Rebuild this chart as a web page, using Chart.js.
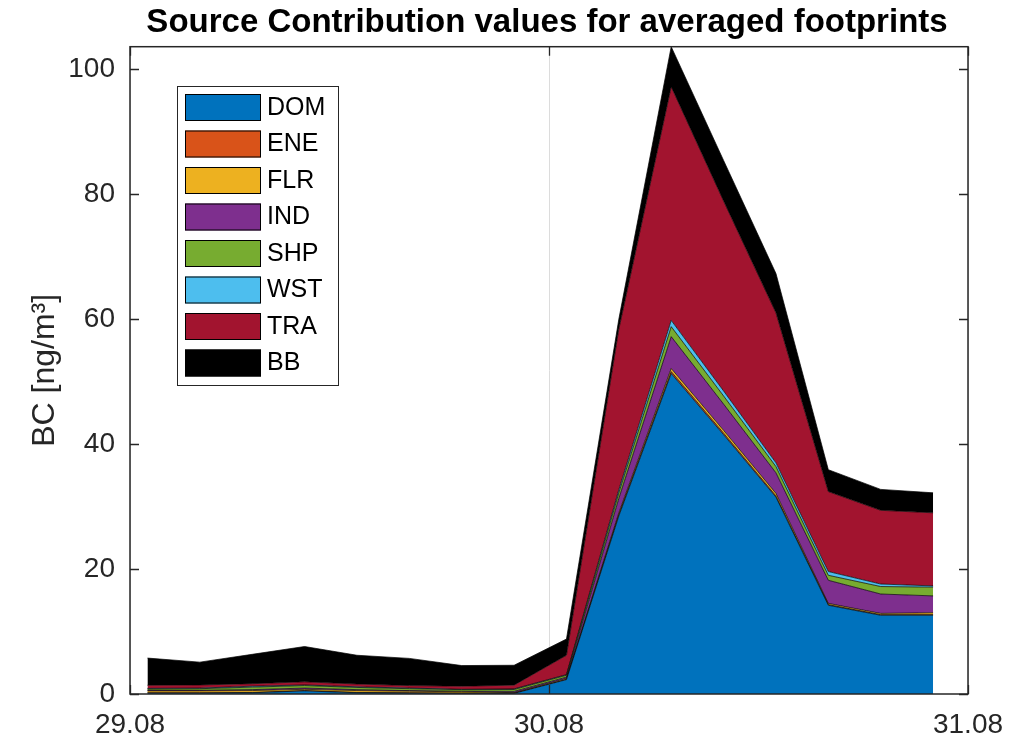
<!DOCTYPE html>
<html>
<head>
<meta charset="utf-8">
<script src="https://cdn.jsdelivr.net/npm/chart.js@4/dist/chart.umd.min.js"></script>
<style>
  html, body { margin: 0; padding: 0; background: #ffffff; }
  canvas { display: block; }
</style>
</head>
<body>
<canvas id="bcChart" width="1020" height="743"></canvas>
<script>
// Time of each footprint average, in hours after 29.08 00:00
const hours = [1, 4, 7, 10, 13, 16, 19, 22, 25, 28, 31, 34, 37, 40, 43, 46];

// Date ticks on the time axis (hours after 29.08 00:00)
const xTickHours = [0, 24, 48];
const xTickLabels = ['29.08', '30.08', '31.08'];
const yTicks = [0, 20, 40, 60, 80, 100];

// Source contributions to BC, ng/m3
const sourceNames = ['DOM', 'ENE', 'FLR', 'IND', 'SHP', 'WST', 'TRA', 'BB'];
const DOM = [0.15, 0.15, 0.2, 0.5, 0.2, 0.15, 0.1, 0.1, 2.3, 28.5, 51.3, 41.5, 31.5, 14.2, 12.6, 12.6];
const ENE = [0.05, 0.05, 0.05, 0.05, 0.05, 0.05, 0.05, 0.02, 0.05, 0.2, 0.3, 0.25, 0.2, 0.1, 0.1, 0.1];
const FLR = [0.3, 0.3, 0.3, 0.2, 0.3, 0.25, 0.2, 0.1, 0.15, 0.3, 0.5, 0.45, 0.4, 0.2, 0.2, 0.3];
const IND = [0.1, 0.1, 0.15, 0.2, 0.15, 0.1, 0.1, 0.2, 0.2, 2.3, 5.1, 4.2, 3.3, 3.7, 3.1, 2.7];
const SHP = [0.2, 0.25, 0.4, 0.4, 0.35, 0.3, 0.25, 0.3, 0.3, 0.9, 1.6, 1.3, 1.0, 0.8, 1.2, 1.4];
const WST = [0.1, 0.1, 0.15, 0.1, 0.1, 0.1, 0.05, 0.1, 0.1, 0.5, 1.0, 0.8, 0.6, 0.6, 0.4, 0.2];
const TRA = [0.5, 0.5, 0.4, 0.5, 0.45, 0.4, 0.5, 0.6, 3.1, 25.7, 37.4, 30.4, 24.0, 12.8, 11.8, 11.7];
const BB  = [4.35, 3.65, 4.7, 5.65, 4.6, 4.35, 3.3, 3.18, 2.6, 1.6, 6.4, 6.5, 6.3, 3.5, 3.35, 3.2];

const seriesValues = [DOM, ENE, FLR, IND, SHP, WST, TRA, BB];
const sourceColors = ['#0072BD', '#D95319', '#EDB120', '#7E2F8E', '#77AC30', '#4DBEEE', '#A2142F', '#000000'];

const FONT = '"Liberation Sans", Arial, Helvetica, sans-serif';
const AXIS_COLOR = '#262626';

// y limit follows the tallest stacked total
const totals = hours.map((_, i) => seriesValues.reduce((s, arr) => s + arr[i], 0));
const yMax = Math.max(...totals);

const datasets = sourceNames.map((name, k) => ({
  label: name,
  data: hours.map((h, i) => ({ x: h, y: seriesValues[k][i] })),
  backgroundColor: sourceColors[k],
  borderColor: '#000000',
  borderWidth: 0.7,
  fill: k === 0 ? 'origin' : '-1',
  tension: 0,
  pointRadius: 0,
  pointHoverRadius: 0
}));

// Box outline, inward ticks, title, y label and legend in the axes' own style
const decorations = {
  id: 'decorations',
  afterDatasetsDraw(chart) {
    const { ctx, chartArea: a, scales } = chart;
    const tl = 9;
    ctx.save();
    ctx.strokeStyle = AXIS_COLOR;
    ctx.lineWidth = 1.3;
    ctx.beginPath();
    yTicks.forEach(v => {
      const y = Math.round(scales.y.getPixelForValue(v)) + 0.5;
      ctx.moveTo(a.left, y); ctx.lineTo(a.left + tl, y);
      ctx.moveTo(a.right, y); ctx.lineTo(a.right - tl, y);
    });
    xTickHours.forEach(v => {
      const x = Math.round(scales.x.getPixelForValue(v)) + 0.5;
      ctx.moveTo(x, a.bottom); ctx.lineTo(x, a.bottom - tl);
      ctx.moveTo(x, a.top); ctx.lineTo(x, a.top + tl);
    });
    ctx.stroke();
    ctx.lineWidth = 1.5;
    ctx.strokeRect(a.left, a.top, a.right - a.left, a.bottom - a.top);
    ctx.restore();
  },
  afterDraw(chart) {
    const { ctx, chartArea: a } = chart;
    ctx.save();
    // title
    ctx.fillStyle = '#000000';
    ctx.font = 'bold 33px ' + FONT;
    ctx.textAlign = 'center';
    ctx.textBaseline = 'alphabetic';
    ctx.fillText('Source Contribution values for averaged footprints', (a.left + a.right) / 2 - 2, 32);
    // y-axis label
    ctx.save();
    ctx.translate(45, (a.top + a.bottom) / 2);
    ctx.rotate(-Math.PI / 2);
    ctx.fillStyle = AXIS_COLOR;
    ctx.font = '32px ' + FONT;
    ctx.textAlign = 'center';
    ctx.textBaseline = 'middle';
    ctx.fillText('BC [ng/m\u00B3]', 0, 0);
    ctx.restore();
    // legend
    const bx = 177.5, by = 86.5, bw = 161, bh = 299;
    ctx.fillStyle = '#ffffff';
    ctx.fillRect(bx, by, bw, bh);
    ctx.strokeStyle = AXIS_COLOR;
    ctx.lineWidth = 1;
    ctx.strokeRect(bx, by, bw, bh);
    ctx.font = '25px ' + FONT;
    ctx.textAlign = 'left';
    ctx.textBaseline = 'middle';
    chart.data.datasets.forEach((ds, i) => {
      const top = 94 + i * 36.5;
      ctx.fillStyle = ds.backgroundColor;
      ctx.fillRect(185, top, 76, 27);
      ctx.strokeStyle = '#000000';
      ctx.lineWidth = 1;
      ctx.strokeRect(185.5, top + 0.5, 75, 26);
      ctx.fillStyle = '#000000';
      ctx.fillText(ds.label, 267, top + 14);
    });
    ctx.restore();
  }
};

new Chart(document.getElementById('bcChart'), {
  type: 'line',
  data: { datasets },
  options: {
    responsive: false,
    animation: false,
    events: [],
    layout: { padding: { top: 46.7, right: 52, left: 0, bottom: 0 } },
    plugins: {
      legend: { display: false },
      title: { display: false },
      tooltip: { enabled: false }
    },
    scales: {
      x: {
        type: 'linear',
        min: 0,
        max: 48,
        afterBuildTicks(scale) { scale.ticks = xTickHours.map(v => ({ value: v })); },
        afterFit(scale) { scale.height = 49; },
        ticks: {
          autoSkip: false,
          maxRotation: 0,
          padding: 14,
          color: AXIS_COLOR,
          font: { family: FONT, size: 28 },
          callback: v => xTickLabels[xTickHours.indexOf(v)]
        },
        grid: { display: true, drawTicks: false, color: '#dcdcdc', lineWidth: 1 },
        border: { display: false }
      },
      y: {
        type: 'linear',
        stacked: true,
        min: 0,
        max: yMax,
        afterBuildTicks(scale) { scale.ticks = yTicks.map(v => ({ value: v })); },
        afterFit(scale) { scale.width = 130; },
        ticks: {
          padding: 15,
          color: AXIS_COLOR,
          font: { family: FONT, size: 28 },
          callback: v => String(v)
        },
        grid: { display: false, drawTicks: false },
        border: { display: false }
      }
    }
  },
  plugins: [decorations]
});
</script>
</body>
</html>
